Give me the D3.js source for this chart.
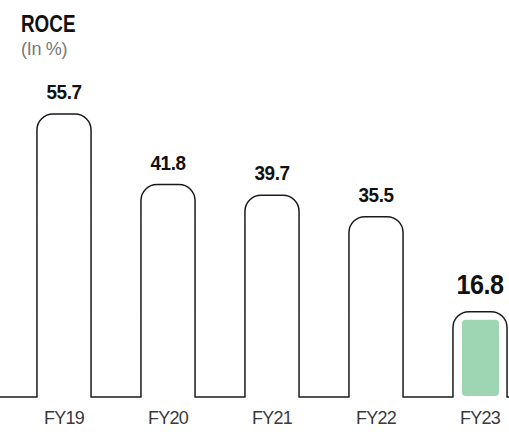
<!DOCTYPE html>
<html>
<head>
<meta charset="utf-8">
<script src="https://cdn.jsdelivr.net/npm/d3@7"></script>
<style>
  body { margin: 0; background: #fff; }
  svg { display: block; }
</style>
</head>
<body>
<script>
// chart data
var years = ["FY19", "FY20", "FY21", "FY22", "FY23"];
var roce = [55.7, 41.8, 39.7, 35.5, 16.8];
var highlightYear = "FY23";

var width = 509, height = 432;
var baseY = 397;

var svg = d3.select("body").append("svg")
    .attr("width", width)
    .attr("height", height);

// x as bands, y linear from zero
var x = d3.scaleBand()
    .domain(years)
    .range([12, 532])
    .paddingInner(0.48)
    .paddingOuter(0.24);

var y = d3.scaleLinear()
    .domain([0, 55.7])
    .range([baseY, 114]);

var r = 16; // rounded top corners

// one continuous outline: baseline -> bar -> baseline -> bar ...
var p = d3.path();
p.moveTo(0, baseY);
years.forEach(function(d, i) {
    var x0 = x(d), x1 = x(d) + x.bandwidth(), top = y(roce[i]);
    p.lineTo(x0, baseY);
    p.lineTo(x0, top + r);
    p.arcTo(x0, top, x0 + r, top, r);
    p.lineTo(x1 - r, top);
    p.arcTo(x1, top, x1, top + r, r);
    p.lineTo(x1, baseY);
});
p.lineTo(width, baseY);

// green fill inside highlighted bar
years.forEach(function(d, i) {
    if (d != highlightYear) return;
    var inset = 8;
    svg.append("rect")
        .attr("x", x(d) + inset + 1)
        .attr("y", y(roce[i]) + inset)
        .attr("width", x.bandwidth() - inset * 2 - 1)
        .attr("height", baseY - 1 - y(roce[i]) - inset)
        .attr("rx", 4)
        .attr("fill", "#9ed6b4");
});

svg.append("path")
    .attr("d", p.toString())
    .attr("fill", "none")
    .attr("stroke", "#1a1a1a")
    .attr("stroke-width", 1.5);

// value labels (squeezed a bit to look condensed)
var sq = 0.9;
svg.selectAll(null)
    .data(years)
    .enter()
    .append("text")
    .attr("transform", function(d, i) {
        var cx = x(d) + x.bandwidth() / 2;
        var ty = y(roce[i]) - (d == highlightYear ? 18 : 15);
        return "translate(" + cx + "," + ty + ") scale(" + sq + ",1)";
    })
    .attr("text-anchor", "middle")
    .attr("font-family", "'Liberation Sans', Arial, sans-serif")
    .attr("font-weight", "bold")
    .attr("font-size", function(d) { return d == highlightYear ? "28px" : "21px"; })
    .attr("letter-spacing", "-0.5px")
    .attr("fill", "#111")
    .text(function(d, i) { return roce[i].toFixed(1); });

// category labels
svg.selectAll(null)
    .data(years)
    .enter()
    .append("text")
    .attr("x", function(d) { return x(d) + x.bandwidth() / 2; })
    .attr("y", 424)
    .attr("text-anchor", "middle")
    .attr("font-family", "'Liberation Sans', Arial, sans-serif")
    .attr("font-size", "18px")
    .attr("letter-spacing", "-0.8px")
    .attr("fill", "#3a3a3a")
    .text(function(d) { return d; });

// title
svg.append("text")
    .attr("transform", "translate(21,32) scale(0.82,1)")
    .attr("font-family", "'Liberation Sans', Arial, sans-serif")
    .attr("font-weight", "bold")
    .attr("font-size", "23px")
    .attr("fill", "#111")
    .text("ROCE");

svg.append("text")
    .attr("x", 21)
    .attr("y", 55)
    .attr("font-family", "'Liberation Sans', Arial, sans-serif")
    .attr("font-size", "18px")
    .attr("letter-spacing", "-0.3px")
    .attr("fill", "#777")
    .text("(In %)");
</script>
</body>
</html>
